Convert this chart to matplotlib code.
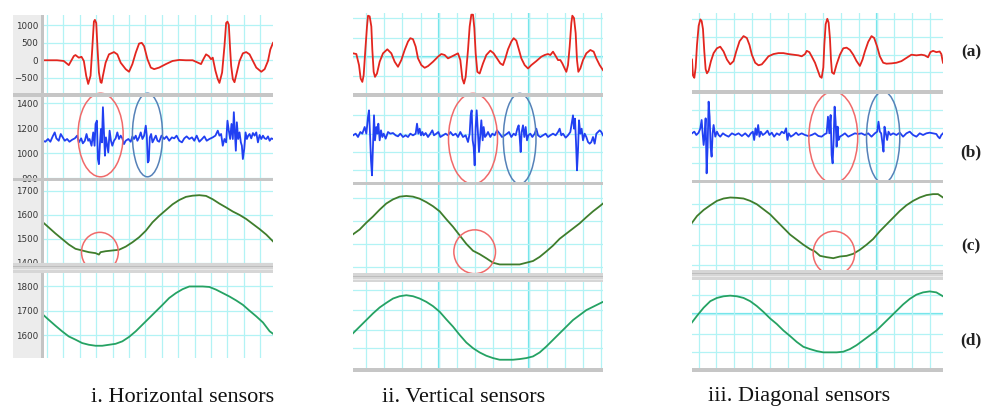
import numpy as np
import matplotlib
matplotlib.use("Agg")
import matplotlib.pyplot as plt
from matplotlib.patches import Ellipse, Rectangle

# ---------------- data ----------------
# panel i : horizontal sensors
red_i_x = [0, 42, 62, 77, 92, 97, 107, 115, 122, 129,
           135, 142, 147, 152, 155, 159, 163, 167, 172, 175,
           179, 187, 197, 212, 222, 232, 247, 257, 267, 277,
           287, 295, 302, 312, 322, 332, 347, 367, 387, 407,
           427, 447, 462, 472, 479, 487, 495, 502, 507, 515,
           522, 527, 535, 542, 547, 551, 555, 559, 562, 567,
           572, 579, 587, 597, 607, 617, 627, 637, 652, 662,
           672, 679, 687]
red_i_y = [0, 0, -20, -140, 120, 150, 75, 100, -20, -445,
           -680, -445, 310, 1110, 1160, 1070, 310, -350, -630, -650,
           -445, -70, 170, 235, 170, -70, -255, -330, -110, 215,
           480, 500, 405, 30, -210, -255, -210, -110, -20, 10,
           0, 0, -65, -110, 30, 170, 120, 30, 75, -300,
           -540, -650, -350, 405, 1070, 1110, 1020, 310, -160, -540,
           -630, -350, -20, 200, 235, 170, -20, -210, -330, -255,
           -20, 310, 500]

blue_i_x = [0, 7, 15, 22, 29, 35, 40, 47, 53, 59,
            65, 72, 79, 87, 95, 102, 107, 114, 119, 125,
            130, 135, 139, 145, 150, 154, 157, 161, 164, 167,
            170, 173, 176, 179, 182, 185, 188, 192, 195, 199,
            203, 207, 212, 217, 222, 227, 232, 237, 242, 247,
            255, 262, 267, 272, 277, 282, 287, 292, 297, 302,
            307, 310, 313, 316, 319, 323, 327, 332, 337, 342,
            347, 354, 362, 369, 377, 385, 392, 399, 407, 415,
            422, 429, 437, 445, 452, 459, 467, 475, 482, 489,
            497, 507, 515, 522, 527, 532, 537, 542, 547, 551,
            555, 559, 563, 567, 570, 573, 576, 579, 583, 587,
            591, 594, 597, 601, 605, 609, 613, 617, 622, 627,
            632, 637, 642, 647, 652, 657, 662, 667, 672, 677,
            682, 687]
blue_i_y = [1099, 1091, 1113, 1091, 1134, 1166, 1118, 1099, 1153, 1126,
            1099, 1113, 1091, 1107, 1118, 1140, 1086, 1118, 1078, 1099,
            1153, 1099, 1113, 1059, 1166, 1059, 1234, 1260, 952, 911,
            1072, 1193, 1086, 1368, 1166, 979, 1126, 1059, 1005, 1180,
            1099, 1059, 1099, 1118, 1166, 1113, 1140, 1118, 1072, 1099,
            1113, 1091, 1134, 1113, 1140, 1099, 1126, 1166, 1113, 1140,
            1220, 1140, 925, 938, 1126, 1153, 1086, 1113, 1140, 1099,
            1091, 1140, 1113, 1134, 1099, 1126, 1118, 1140, 1099, 1086,
            1118, 1134, 1113, 1126, 1099, 1140, 1091, 1113, 1134, 1099,
            1113, 1126, 1140, 1180, 1140, 1153, 1059, 1113, 1086, 1260,
            1180, 1113, 1234, 1113, 1328, 1166, 1019, 1247, 1113, 1166,
            1086, 1059, 952, 1032, 1166, 1113, 1140, 1153, 1118, 1161,
            1140, 1166, 1086, 1145, 1113, 1140, 1118, 1113, 1134, 1099,
            1118, 1113]

green_i_x = [0, 17, 37, 57, 77, 97, 117, 137, 157, 167, 172, 187, 207, 227, 247, 267, 287, 307,
             327, 347, 367, 387, 407, 427, 447, 467, 487, 507, 527, 547, 567, 587, 607, 627, 647,
             667, 687]
green_i_y = [1569, 1548, 1523, 1500, 1477, 1459, 1452, 1445, 1441, 1435, 1445, 1449, 1452, 1455,
             1468, 1486, 1507, 1534, 1569, 1596, 1620, 1644, 1662, 1675, 1680, 1682, 1679, 1665,
             1647, 1631, 1614, 1600, 1583, 1562, 1541, 1518, 1490]

teal_i_x = [0, 17, 37, 57, 77, 97, 117, 137, 157, 177, 197, 217, 237, 257, 277, 297, 317, 337,
            357, 377, 397, 417, 437, 457, 477, 497, 517, 537, 557, 577, 597, 617, 637, 657, 677, 687]
teal_i_y = [1684, 1663, 1639, 1616, 1595, 1582, 1568, 1561, 1557, 1557, 1561, 1565, 1575, 1593,
            1616, 1643, 1670, 1697, 1724, 1752, 1772, 1788, 1799, 1799, 1799, 1797, 1786, 1772,
            1758, 1742, 1724, 1700, 1677, 1652, 1616, 1606]

# panel ii : vertical sensors
red_ii_x = [0, 10, 18, 23, 28, 32, 37, 42, 45, 50, 55, 58, 62, 66, 72, 80, 90, 103, 115, 125,
            135, 145, 155, 165, 172, 180, 188, 195, 205, 215, 225, 240, 255, 265, 275, 285, 295,
            305, 315, 322, 328, 333, 338, 345, 350, 355, 360, 364, 368, 373, 380, 390, 400, 412,
            422, 432, 442, 450, 457, 465, 475, 482, 490, 498, 505, 515, 525, 535, 550, 565, 575,
            585, 592, 600, 608, 615, 622, 628, 635, 640, 645, 650, 655, 658, 663, 668, 672, 676,
            682, 690, 700, 712, 722, 730, 740, 750]
red_ii_y = [100, 80, -250, -650, -750, -550, 200, 900, 1220, 1200, 900, 200, -450, -600, -500,
            -150, 100, 220, 100, -150, -300, -100, 200, 450, 550, 520, 300, -50, -250, -330, -280,
            -150, 0, 80, 50, -50, 0, 50, 100, -100, -650, -800, -600, 200, 900, 1250, 1250, 850,
            100, -450, -500, -200, 50, 180, 100, -50, -200, -250, -50, 220, 450, 550, 480, 200, -50,
            -250, -350, -250, -130, 0, 50, 80, 50, 150, 20, -100, -100, -200, -350, -450, -250, 300,
            1000, 1220, 1150, 700, -100, -450, -350, -100, 100, 200, 150, -50, -250, -400]

blue_ii_x = [0, 8, 15, 22, 28, 35, 40, 45, 48, 51, 54, 57, 60, 63, 66, 70, 73, 76, 80, 84,
             88, 92, 98, 105, 112, 120, 128, 135, 142, 150, 158, 165, 172, 180, 188, 192, 196, 200, 204, 208,
             212, 218, 225, 232, 238, 243, 250, 256, 262, 270, 278, 285, 292, 300, 308, 315, 322, 330, 338, 345,
             350, 353, 356, 359, 362, 365, 368, 371, 374, 378, 382, 385, 389, 392, 396, 400, 405, 412, 418, 425,
             432, 440, 447, 455, 462, 468, 475, 482, 488, 493, 497, 500, 503, 506, 510, 514, 518, 522, 526, 532,
             538, 545, 550, 555, 562, 570, 578, 585, 592, 600, 608, 615, 620, 625, 630, 638, 645, 652, 660, 663,
             666, 669, 672, 675, 678, 682, 686, 690, 695, 700, 705, 710, 715, 720, 725, 730, 735, 740, 745, 750]
blue_ii_y = [1100, 1115, 1085, 1130, 1115, 1175, 1115, 1265, 1325, 1115, 875, 740, 1025, 1280, 1055, 1175, 1115, 1205, 1055, 1145,
             1085, 1115, 1070, 1130, 1115, 1121, 1100, 1091, 1115, 1085, 1100, 1085, 1115, 1100, 1115, 1205, 1115, 1160, 1100, 1130,
             1100, 1121, 1085, 1115, 1145, 1100, 1115, 1130, 1085, 1100, 1115, 1100, 1130, 1100, 1115, 1085, 1130, 1085, 1100, 1040,
             1115, 1280, 1325, 1055, 995, 830, 1175, 1325, 1160, 950, 1115, 1235, 1055, 1175, 1085, 1100, 1130, 1085, 1115, 1100,
             1145, 1115, 1085, 1100, 1115, 1130, 1085, 1115, 1100, 1160, 1190, 1085, 950, 1130, 1190, 1085, 1175, 1055, 1100, 1115,
             1085, 1115, 1160, 1100, 1085, 1100, 1115, 1085, 1100, 1115, 1100, 1130, 1160, 1100, 1115, 1079, 1100, 1130, 1280, 1160,
             1250, 1040, 785, 965, 1235, 1115, 1160, 1055, 1115, 1085, 1040, 1025, 1040, 1085, 1025, 1115, 1130, 1145, 1130, 1100]

green_ii_x = [0, 20, 40, 60, 80, 100, 120, 140, 160, 180, 200, 220, 240, 260, 280, 300, 320, 340, 360,
              380, 400, 420, 440, 460, 480, 500, 520, 540, 560, 580, 600, 620, 640, 660, 680, 700, 720,
              740, 750]
green_ii_y = [1488, 1502, 1522, 1540, 1560, 1578, 1590, 1598, 1600, 1598, 1592, 1582, 1570, 1555,
              1532, 1510, 1485, 1460, 1440, 1430, 1418, 1405, 1400, 1400, 1400, 1400, 1405, 1410,
              1422, 1438, 1455, 1475, 1490, 1505, 1520, 1538, 1555, 1570, 1578]
teal_ii_x = green_ii_x
teal_ii_y = [1640, 1660, 1680, 1700, 1718, 1732, 1745, 1752, 1755, 1752, 1745, 1735, 1722, 1705,
             1682, 1660, 1635, 1612, 1595, 1582, 1572, 1565, 1560, 1560, 1560, 1562, 1565, 1570,
             1582, 1600, 1620, 1640, 1660, 1680, 1695, 1710, 1720, 1730, 1735]

# panel iii : diagonal sensors
red_iii_x = [0, 3, 7, 11, 15, 20, 25, 29, 33, 37, 41, 45, 50, 57, 65, 75, 85, 95, 105, 115,
             125, 133, 143, 155, 165, 173, 180, 190, 200, 210, 220, 230, 245, 260, 275, 290, 305, 320, 330, 340,
             345, 353, 360, 370, 377, 385, 390, 395, 398, 402, 407, 411, 415, 418, 421, 427, 435, 445, 455, 465,
             475, 485, 495, 505, 513, 520, 530, 540, 548, 557, 565, 575, 585, 600, 615, 630, 645, 660, 675, 690,
             700, 710, 717, 725, 735, 745, 750, 753, 755]
red_iii_y = [-150, -650, -720, -400, 300, 900, 1100, 1050, 800, 100, -450, -580, -500, -200, 50, 200, 250, 100, -150, -300,
             -200, 100, 420, 580, 520, 300, 0, -250, -330, -300, -180, -50, 20, 50, 50, 20, 0, -20, -50, 20,
             120, 80, -50, -250, -450, -680, -720, -400, 300, 950, 1120, 1000, 500, -150, -550, -600, -300, 0, 200, 220,
             150, 0, -200, -350, -150, 100, 400, 580, 520, 250, -50, -250, -280, -270, -250, -200, -100, 0, -20, 0,
             -20, -80, 80, 120, 80, 100, 20, -150, -250]

blue_iii_x = [0, 7, 13, 20, 25, 29, 32, 35, 38, 41, 44, 47, 50, 53, 56, 59, 62, 65, 70, 75,
              80, 85, 93, 100, 110, 120, 130, 140, 150, 160, 170, 177, 183, 187, 191, 195, 199, 203, 207, 213,
              220, 227, 233, 240, 247, 255, 263, 270, 277, 283, 287, 291, 297, 305, 313, 320, 330, 340, 350, 360,
              370, 380, 390, 400, 405, 409, 413, 417, 420, 423, 426, 429, 432, 435, 438, 441, 445, 453, 460, 470,
              480, 490, 500, 510, 520, 530, 540, 550, 557, 561, 565, 569, 573, 576, 579, 583, 587, 591, 597, 605,
              615, 625, 635, 645, 655, 665, 675, 685, 695, 705, 715, 725, 735, 740, 745, 750, 755]
blue_iii_y = [1115, 1130, 1100, 1121, 1160, 1235, 1115, 1010, 1100, 1250, 755, 995, 1400, 1265, 995, 905, 1115, 1190, 1085, 1130,
              1100, 1085, 1115, 1100, 1085, 1115, 1100, 1115, 1091, 1115, 1085, 1115, 1130, 1055, 1160, 1100, 1190, 1085, 1130, 1100,
              1115, 1139, 1100, 1121, 1085, 1115, 1100, 1130, 1115, 1160, 1055, 1115, 1085, 1100, 1121, 1100, 1115, 1100, 1091, 1100,
              1115, 1091, 1085, 1109, 1115, 1265, 1115, 1280, 920, 845, 1055, 1355, 1220, 995, 1175, 1055, 1085, 1100, 1115, 1085,
              1100, 1115, 1109, 1115, 1100, 1115, 1085, 1115, 1130, 1220, 1130, 1115, 1025, 950, 1175, 1115, 1055, 1130, 1100, 1115,
              1100, 1121, 1085, 1115, 1130, 1100, 1085, 1115, 1100, 1115, 1121, 1115, 1109, 1085, 1070, 1100, 1115]

green_iii_x = [0, 15, 35, 55, 75, 95, 115, 135, 155, 175, 195, 215, 235, 255, 275, 295, 315, 335, 355, 370,
               385, 405, 425, 445, 465, 485, 505, 525, 545, 565, 585, 605, 625, 645, 665, 685, 705, 725, 740, 755]
green_iii_y = [1520, 1540, 1558, 1572, 1585, 1592, 1595, 1594, 1592, 1585, 1575, 1560, 1545, 1525, 1505,
               1485, 1470, 1455, 1442, 1435, 1422, 1418, 1415, 1420, 1422, 1428, 1440, 1455, 1472, 1495,
               1515, 1535, 1555, 1572, 1585, 1595, 1602, 1605, 1605, 1595]
teal_iii_x = [0, 15, 35, 55, 75, 95, 115, 135, 155, 175, 195, 215, 235, 255, 275, 295, 315, 335, 355,
              375, 395, 415, 435, 455, 475, 495, 515, 535, 555, 575, 595, 615, 635, 655, 675, 695, 715, 735, 755]
teal_iii_y = [1670, 1690, 1715, 1735, 1745, 1750, 1752, 1750, 1745, 1735, 1720, 1702, 1682, 1665, 1645,
              1628, 1610, 1595, 1588, 1582, 1578, 1578, 1578, 1580, 1588, 1600, 1615, 1630, 1645, 1665,
              1685, 1705, 1725, 1742, 1755, 1762, 1765, 1762, 1750]

# highlighted events: (centre x, centre y, width, height)
events_b = {
    "i":   [(172, 1145, 135, 671), (312, 1145, 90, 671)],
    "ii":  [(360, 1070, 147, 816), (500, 1070, 98, 816)],
    "iii": [(425, 1079, 147, 825), (575, 1079, 100, 825)],
}
events_c = {"i": (170, 1445, 110, 165), "ii": (365, 1437, 125, 128), "iii": (427, 1430, 125, 130)}

row_tags = ["(a)", "(b)", "(c)", "(d)"]
captions = ["i. Horizontal sensors", "ii. Vertical sensors", "iii. Diagonal sensors"]

# ---------------- styling ----------------
W, H = 987, 408
RED, BLUE, GREEN, TEAL = "#e3261f", "#2140f2", "#3f7d2c", "#25a263"
GRID, GRID_BOLD = "#b2f3f5", "#6fe3ea"
SEP = "#c6c6c6"

fig = plt.figure(figsize=(W / 100, H / 100), dpi=100)
fig.patch.set_facecolor("white")


def px_axes(x0, y0, x1, y1):
    return fig.add_axes([x0 / W, 1 - y1 / H, (x1 - x0) / W, (y1 - y0) / H])


def rect(x0, y0, x1, y1, color, z=3):
    fig.add_artist(Rectangle((x0 / W, 1 - y1 / H), (x1 - x0) / W, (y1 - y0) / H,
                             transform=fig.transFigure, facecolor=color, edgecolor="none", zorder=z))


def strip(box, xs, ys, color, xlim, ylim, vgrid, hgrid, bold_v=(), bold_h=(), labels=False):
    ax = px_axes(*box)
    ax.plot(xs, ys, color=color, lw=1.3, zorder=3)
    ax.set_xlim(*xlim)
    ax.set_ylim(*ylim)
    for s in ax.spines.values():
        s.set_visible(False)
    ax.set_xticks(vgrid)
    ax.set_yticks(hgrid)
    ax.grid(True, color=GRID, lw=0.9, zorder=0)
    for v in bold_v:
        ax.axvline(v, color=GRID_BOLD, lw=1.6, zorder=1)
    for h in bold_h:
        ax.axhline(h, color=GRID_BOLD, lw=1.6, zorder=1)
    ax.tick_params(axis="x", length=0, labelbottom=False)
    if labels:
        ax.tick_params(axis="y", length=1.5, width=0.8, color="#777777", pad=2,
                       labelsize=6.3, labelcolor="#333333")
    else:
        ax.tick_params(axis="y", length=0, labelleft=False)
    return ax


# ---------- panel i ----------
vg_i = list(range(12, 687, 49))
ax = strip((43, 15, 273, 93), red_i_x, red_i_y, RED, (0, 687), (-940, 1300), vg_i,
           [-500, 0, 500, 1000], labels=True)
ax = strip((43, 97, 273, 178), blue_i_x, blue_i_y, BLUE, (0, 687), (800, 1450), vg_i,
           [800, 1000, 1200, 1400], labels=True)
for cx, cy, w, h in events_b["i"]:
    ax.add_patch(Ellipse((cx, cy), w, h, fill=False, lw=1.1, clip_on=False, zorder=6,
                         ec="#f06a6a" if cx < 250 else "#5681b8"))
ax = strip((43, 181, 273, 263), green_i_x, green_i_y, GREEN, (0, 687), (1400, 1741), vg_i,
           [1400, 1500, 1600, 1700], labels=True)
cx, cy, w, h = events_c["i"]
ax.add_patch(Ellipse((cx, cy), w, h, fill=False, lw=1.1, ec="#f06a6a", clip_on=False, zorder=6))
ax = strip((43, 273, 273, 358), teal_i_x, teal_i_y, TEAL, (0, 687), (1507, 1854), vg_i,
           [1600, 1700, 1800], labels=True)

rect(13, 15, 43, 358, "#ececec", z=-1)
rect(41, 15, 44, 358, "#c4c4c4", z=2)
rect(13, 93, 273, 97, SEP)
rect(13, 178, 273, 181, SEP)
rect(13, 263, 273, 273, "#d6d6d6")
rect(13, 266, 273, 267, "#bdbdbd")
rect(13, 269, 273, 270, "#e9e9e9")

# ---------- panel ii ----------
vg_ii = [40 + 54.2 * k for k in range(14)]
bv_ii = [vg_ii[4], vg_ii[9]]
strip((353, 13, 603, 93), red_ii_x, red_ii_y, RED, (0, 750), (-1080, 1300), vg_ii,
      [-580, 0, 570, 1150], bv_ii, [0])
ax = strip((353, 97, 603, 182), blue_ii_x, blue_ii_y, BLUE, (0, 750), (680, 1445), vg_ii,
           [785, 950, 1115, 1280], bv_ii)
for cx, cy, w, h in events_b["ii"]:
    ax.add_patch(Ellipse((cx, cy), w, h, fill=False, lw=1.1, clip_on=False, zorder=6,
                         ec="#f06a6a" if cx < 450 else "#5681b8"))
ax = strip((353, 185, 603, 273), green_ii_x, green_ii_y, GREEN, (0, 750), (1375, 1632), vg_ii,
           [1392, 1460, 1528, 1595], bv_ii)
cx, cy, w, h = events_c["ii"]
ax.add_patch(Ellipse((cx, cy), w, h, fill=False, lw=1.1, ec="#f06a6a", clip_on=False, zorder=6))
strip((353, 282, 603, 368), teal_ii_x, teal_ii_y, TEAL, (0, 750), (1535, 1795), vg_ii,
      [1595, 1650, 1710, 1770], bv_ii)

rect(353, 93, 603, 97, SEP)
rect(353, 182, 603, 185, SEP)
rect(353, 273, 603, 282, "#d6d6d6")
rect(353, 276, 603, 277, "#bdbdbd")
rect(353, 279, 603, 280, "#e9e9e9")
rect(353, 368, 603, 372, SEP)

# ---------- panel iii ----------
vg_iii = [20 + 53.5 * k for k in range(14)]
bv_iii = [vg_iii[10]]
strip((692, 13, 943, 90), red_iii_x, red_iii_y, RED, (0, 755), (-1100, 1300), vg_iii,
      [-550, 0, 550, 1100], bv_iii)
ax = strip((692, 94, 943, 180), blue_iii_x, blue_iii_y, BLUE, (0, 755), (695, 1469), vg_iii,
           [845, 995, 1160, 1325], bv_iii)
for cx, cy, w, h in events_b["iii"]:
    ax.add_patch(Ellipse((cx, cy), w, h, fill=False, lw=1.1, clip_on=False, zorder=6,
                         ec="#f06a6a" if cx < 500 else "#5681b8"))
ax = strip((692, 183, 943, 270), green_iii_x, green_iii_y, GREEN, (0, 755), (1380, 1638), vg_iii,
           [1395, 1455, 1515, 1575], bv_iii)
cx, cy, w, h = events_c["iii"]
ax.add_patch(Ellipse((cx, cy), w, h, fill=False, lw=1.1, ec="#f06a6a", clip_on=False, zorder=6))
strip((692, 280, 943, 368), teal_iii_x, teal_iii_y, TEAL, (0, 755), (1530, 1800), vg_iii,
      [1580, 1635, 1695, 1755], bv_iii, [1695])

rect(692, 90, 943, 94, SEP)
rect(692, 180, 943, 183, SEP)
rect(692, 270, 943, 280, "#d6d6d6")
rect(692, 273, 943, 274, "#bdbdbd")
rect(692, 276, 943, 277, "#e9e9e9")
rect(692, 368, 943, 372, SEP)

# ---------- text ----------
for tag, y in zip(row_tags, [52, 152, 246, 340]):
    fig.text(971 / W, 1 - y / H, tag, ha="center", va="center", fontsize=12.5,
             family="Liberation Serif", weight="bold", color="#222222")
for cap, x in zip(captions, [183, 464, 799]):
    fig.text(x / W, 1 - 397 / H, cap, ha="center", va="center", fontsize=16,
             family="Liberation Serif", color="#111111")

fig.savefig("out.png", dpi=100, facecolor="white")
